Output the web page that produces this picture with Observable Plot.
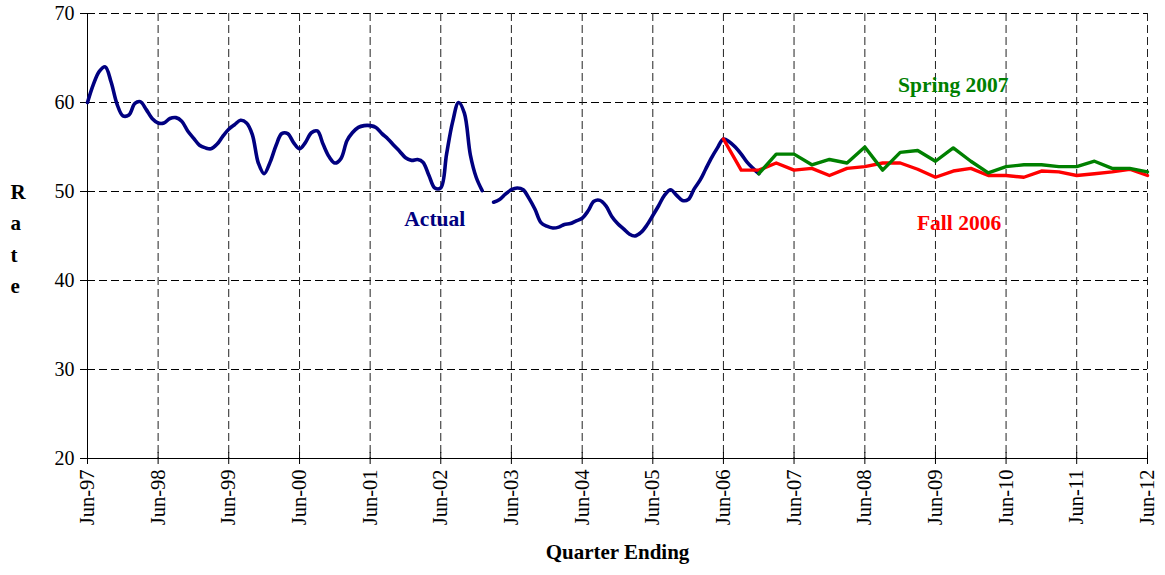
<!DOCTYPE html>
<html><head><meta charset="utf-8">
<script src="https://cdn.jsdelivr.net/npm/d3@7"></script>
<script src="https://cdn.jsdelivr.net/npm/@observablehq/plot@0.6"></script>
<style>
body{margin:0;background:#fff}
svg{font-family:"Liberation Serif","Times New Roman",serif}
</style>
</head><body><div id="chart"></div>
<script>
// Actual: monthly, from Jun-97 to Dec-06 (null = gap in the line)
const actualStart = [1997, 5];
const actualValues = [
  60.0, 62.0, 63.5, 64.0, 62.3, 59.8, 58.5, 58.6, 59.9, 60.1, 59.2, 58.2,
  57.7, 57.7, 58.2, 58.3, 57.9, 56.8, 56.0, 55.2, 54.9, 54.8, 55.3, 56.2,
  57.0, 57.5, 58.0, 57.7, 56.4, 53.2, 52.0, 53.3, 55.2, 56.5, 56.5, 55.5,
  54.8, 55.5, 56.6, 56.8, 55.3, 53.9, 53.2, 53.7, 55.7, 56.6, 57.2, 57.4,
  57.4, 57.2, 56.5, 55.9, 55.2, 54.5, 53.8, 53.5, 53.6, 53.3, 51.8, 50.4,
  50.4, 54.2, 57.8, 60.0, 58.8, 54.1, 51.6, 50.1, null, 48.8, 49.1, 49.7,
  50.2, 50.4, 50.2, 49.2, 48.0, 46.5, 46.1, 45.9, 46.0, 46.3, 46.4, 46.7,
  47.0, 47.8, 48.9, 49.0, 48.4, 47.2, 46.4, 45.8, 45.2, 45.0, 45.4, 46.2,
  47.3, 48.4, 49.6, 50.2, 49.6, 49.0, 49.1, 50.3, 51.3, 52.5, 53.8, 54.9,
  55.9, 55.6, 55.0, 54.2, 53.3, 52.6, 52.0
];
// Fall 2006 forecast: quarterly, Jun-06 to Jun-12
const fallStart = [2006, 5];
const fallValues = [
  55.9, 52.4, 52.4, 53.2, 52.4, 52.6, 51.8, 52.6, 52.8, 53.2, 53.2, 52.5, 51.6,
  52.3, 52.6, 51.8, 51.8, 51.6, 52.3, 52.2, 51.8, 52.0, 52.2, 52.5, 51.8
];
// Spring 2007 forecast: quarterly, Dec-06 to Jun-12
const springStart = [2006, 11];
const springValues = [
  52.0, 54.2, 54.2, 53.0, 53.6, 53.2, 55.0, 52.4, 54.4, 54.6, 53.4,
  54.9, 53.4, 52.1, 52.8, 53.0, 53.0, 52.8, 52.8, 53.4, 52.6, 52.6, 52.2
];
const tickYears = [1997,1998,1999,2000,2001,2002,2003,2004,2005,2006,2007,2008,2009,2010,2011,2012];
const yTicks = [20, 30, 40, 50, 60, 70];
const seriesLabels = [
  {text: "Actual", year: 2002, month: 4, value: 46.9, color: "#000080"},
  {text: "Spring 2007", year: 2009, month: 8, value: 61.9, color: "#008000"},
  {text: "Fall 2006", year: 2009, month: 9, value: 46.5, color: "#FF0000"}
];

const actual = actualValues.map((v, i) => ({date: new Date(Date.UTC(actualStart[0], actualStart[1] + i, 1)), value: v}));
const fall = fallValues.map((v, i) => ({date: new Date(Date.UTC(fallStart[0], fallStart[1] + 3 * i, 1)), value: v}));
const spring = springValues.map((v, i) => ({date: new Date(Date.UTC(springStart[0], springStart[1] + 3 * i, 1)), value: v}));
const tickDates = tickYears.map(y => new Date(Date.UTC(y, 5, 1)));
const labels = seriesLabels.map(d => ({...d, date: new Date(Date.UTC(d.year, d.month, 1))}));

const chart = Plot.plot({
  width: 1165, height: 575,
  marginLeft: 87, marginRight: 18, marginTop: 13, marginBottom: 117,
  style: {fontFamily: "Liberation Serif", fontSize: "20px", color: "black", background: "white", overflow: "visible"},
  x: {type: "utc", domain: [tickDates[0], tickDates[tickDates.length - 1]]},
  y: {domain: [20, 70]},
  marks: [
    Plot.ruleY(yTicks.slice(1), {stroke: "black", strokeDasharray: "8,4", strokeWidth: 1}),
    Plot.ruleX(tickDates.slice(1), {stroke: "#222", strokeDasharray: "8,4", strokeWidth: 1}),
    Plot.ruleX(tickDates, {y1: 20, y2: 20, insetTop: -6, stroke: "black"}),
    Plot.axisY({ticks: yTicks, tickSize: 7, tickPadding: 6, fontSize: 20, label: null}),
    Plot.axisX({ticks: tickDates, tickFormat: d3.utcFormat("%b-%y"), tickRotate: -90, tickSize: 6, tickPadding: 5, fontSize: 20.5, label: null}),
    Plot.ruleX([tickDates[0]], {stroke: "black"}),
    Plot.ruleY([20], {stroke: "black"}),
    Plot.line(actual, {x: "date", y: "value", stroke: "#000080", strokeWidth: 3.6, curve: "catmull-rom"}),
    Plot.line(fall, {x: "date", y: "value", stroke: "#FF0000", strokeWidth: 3.4}),
    Plot.line(spring, {x: "date", y: "value", stroke: "#008000", strokeWidth: 3.4}),
    Plot.text(labels, {x: "date", y: "value", text: "text", fill: "color", fontWeight: "bold", fontSize: 21.5}),
    Plot.text(["Quarter Ending"], {text: d => d, frameAnchor: "bottom", dy: 100, fontWeight: "bold", fontSize: 21}),
    Plot.text(["R\na\nt\ne"], {text: d => d, frameAnchor: "left", dx: -77, fontWeight: "bold", fontSize: 21, lineHeight: 1.5})
  ]
});
document.getElementById("chart").appendChild(chart);
</script>
</body></html>
